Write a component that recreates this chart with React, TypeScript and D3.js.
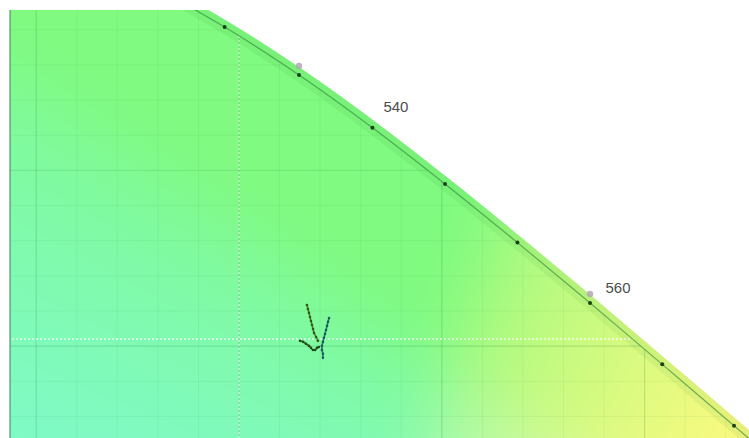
import React, { useMemo } from 'react';
import * as d3 from 'd3';

const W = 749;
const H = 438;

// CIE 1931 2° spectral locus (chromaticity x, y) in 5 nm steps
const wavelengths = [500, 505, 510, 515, 520, 525, 530, 535, 540, 545, 550, 555, 560, 565, 570, 575, 580, 585];
const locusX = [0.0082, 0.0039, 0.0139, 0.0389, 0.0743, 0.1142, 0.1547, 0.1929, 0.2296, 0.2658, 0.3016, 0.3373, 0.3731, 0.4087, 0.4441, 0.4788, 0.5125, 0.5448];
const locusY = [0.5384, 0.6548, 0.7502, 0.812, 0.8338, 0.8262, 0.8059, 0.7816, 0.7543, 0.7243, 0.6923, 0.6589, 0.6245, 0.5896, 0.5547, 0.5202, 0.4866, 0.4544];

// Labelled wavelengths and where their captions sit (chromaticity units)
const labelWavelengths = [540, 560];
const labelX = [0.2774, 0.3869];
const labelY = [0.7361, 0.6336];

// Reference cross lines
const refLineX = 0.2;
const refLineY = 0.604;

// Grid ticks
const minorTicks = d3.range(0, 0.62, 0.02).map((v) => +v.toFixed(2)).concat([0.62, 0.64, 0.66, 0.68, 0.72, 0.74, 0.76, 0.78]);
const majorTicks = [0.1, 0.2, 0.3, 0.4, 0.5, 0.6, 0.7, 0.8];

// Measured chromaticity traces
const traceAX = [0.2335, 0.234, 0.2345, 0.235, 0.2355, 0.236, 0.2365, 0.237, 0.238, 0.2389];
const traceAY = [0.6234, 0.6211, 0.6189, 0.6166, 0.6143, 0.612, 0.6097, 0.6075, 0.6052, 0.603];
const traceBX = [0.2444, 0.2439, 0.2434, 0.2429, 0.2424, 0.2419, 0.2414, 0.2409, 0.2409, 0.2414, 0.2414];
const traceBY = [0.616, 0.6138, 0.6115, 0.6092, 0.6069, 0.6047, 0.6024, 0.6001, 0.5978, 0.5956, 0.5933];
const traceCX = [0.2301, 0.2316, 0.233, 0.2345, 0.2355, 0.2365, 0.2375, 0.2385, 0.2394];
const traceCY = [0.603, 0.6024, 0.6013, 0.6001, 0.599, 0.5978, 0.5978, 0.599, 0.5995];

const xScale = d3.scaleLinear().domain([0.1, 0.4]).range([36.2, 644.6]);
const yScale = d3.scaleLinear().domain([0.6, 0.7]).range([346.1, 170.4]);

function gammaEncode(c: number) {
  return c <= 0.0031308 ? 12.92 * c : 1.055 * Math.pow(c, 1 / 2.4) - 0.055;
}

// xy chromaticity -> display colour, lightened over white
function chromaColor(x: number, y: number): [number, number, number] {
  const X = x / y;
  const Y = 1;
  const Z = (1 - x - y) / y;
  let r = 3.2406 * X - 1.5372 * Y - 0.4986 * Z;
  let g = -0.9689 * X + 1.8758 * Y + 0.0415 * Z;
  let b = 0.0557 * X - 0.204 * Y + 1.057 * Z;
  r = Math.max(0, r);
  g = Math.max(0, g);
  b = Math.max(0, b);
  const m = Math.max(r, g, b) || 1;
  const a = 0.5;
  const enc = (c: number) => 255 * (1 - a) + a * 245 * gammaEncode(c / m);
  return [enc(r), enc(g), enc(b)];
}

// Paint the chromaticity field, then soften it so neighbouring hues blend
function buildField(): string {
  const pad = 80;
  const src = document.createElement('canvas');
  src.width = W + pad * 2;
  src.height = H + pad * 2;
  const sctx = src.getContext('2d');
  if (!sctx) return '';
  const img = sctx.createImageData(src.width, src.height);
  for (let py = 0; py < src.height; py++) {
    const cy = yScale.invert(py - pad + 0.5);
    for (let px = 0; px < src.width; px++) {
      const cx = xScale.invert(px - pad + 0.5);
      const [r, g, b] = chromaColor(cx, cy);
      const i = (py * src.width + px) * 4;
      img.data[i] = r;
      img.data[i + 1] = g;
      img.data[i + 2] = b;
      img.data[i + 3] = 255;
    }
  }
  sctx.putImageData(img, 0, 0);

  const out = document.createElement('canvas');
  out.width = W;
  out.height = H;
  const ctx = out.getContext('2d');
  if (!ctx) return '';
  ctx.filter = 'blur(28px)';
  ctx.drawImage(src, -pad, -pad);
  return out.toDataURL();
}

export default function App() {
  const field = useMemo(() => buildField(), []);

  const locusPts: [number, number][] = wavelengths.map((_, i) => [xScale(locusX[i]), yScale(locusY[i])]);
  const line = d3.line<[number, number]>().curve(d3.curveCatmullRom.alpha(0.5));
  const locusPath = line(locusPts) || '';
  // close the region far outside the visible window
  const regionPath =
    locusPath +
    `L${xScale(0.6)},${yScale(0.3)}L${xScale(-0.2)},${yScale(0.3)}L${xScale(-0.2)},${yScale(0.5384)}Z`;

  const visibleDots = wavelengths
    .map((w, i) => ({ w, x: xScale(locusX[i]), y: yScale(locusY[i]) }))
    .filter((d) => d.x > 0 && d.x < W && d.y > 0 && d.y < H);

  const traceLine = d3.line<[number, number]>().curve(d3.curveMonotoneY);
  const toPts = (xs: number[], ys: number[]) => xs.map((x, i) => [xScale(x), yScale(ys[i])] as [number, number]);
  const traces = [
    { pts: toPts(traceAX, traceAY), stroke: '#4f7a22', dot: '#2f5a18' },
    { pts: toPts(traceBX, traceBY), stroke: '#24786e', dot: '#1d5c5e' },
    { pts: toPts(traceCX, traceCY), stroke: '#2f6226', dot: '#234a1a' },
  ];

  const left = 10;
  const top = 10;

  return (
    <svg width={W} height={H} style={{ position: 'absolute', left: 0, top: 0, background: '#fff' }}>
      <defs>
        <clipPath id="plotArea">
          <rect x={left} y={top} width={W - left + 20} height={H - top + 20} />
        </clipPath>
        <clipPath id="locusRegion">
          <path d={regionPath} />
        </clipPath>
        <mask id="locusMask">
          <path d={regionPath} fill="#fff" />
          <path d={locusPath} fill="none" stroke="#fff" strokeWidth={13} strokeLinejoin="round" />
        </mask>
      </defs>

      <g clipPath="url(#plotArea)">
        <g mask="url(#locusMask)">
          <image href={field} x={0} y={0} width={W} height={H} preserveAspectRatio="none" />
          <path d={locusPath} fill="none" stroke="rgba(40,140,40,0.08)" strokeWidth={13} />
        </g>

        <g clipPath="url(#locusRegion)">
          {minorTicks.map((t) => (
            <line key={'vx' + t} x1={xScale(t)} x2={xScale(t)} y1={0} y2={H} stroke="rgba(0,90,60,0.055)" strokeWidth={1} />
          ))}
          {minorTicks.map((t) => (
            <line key={'hy' + t} x1={0} x2={W} y1={yScale(t)} y2={yScale(t)} stroke="rgba(0,90,60,0.055)" strokeWidth={1} />
          ))}
          {majorTicks.map((t) => (
            <line key={'Vx' + t} x1={xScale(t)} x2={xScale(t)} y1={0} y2={H} stroke="rgba(0,90,60,0.1)" strokeWidth={1.3} />
          ))}
          {majorTicks.map((t) => (
            <line key={'Hy' + t} x1={0} x2={W} y1={yScale(t)} y2={yScale(t)} stroke="rgba(0,90,60,0.1)" strokeWidth={1.3} />
          ))}
          <line x1={xScale(refLineX)} x2={xScale(refLineX)} y1={0} y2={H} stroke="rgba(255,255,255,0.6)" strokeWidth={1.5} strokeDasharray="2,2" />
          <line x1={0} x2={W} y1={yScale(refLineY)} y2={yScale(refLineY)} stroke="rgba(255,255,255,0.6)" strokeWidth={2} strokeDasharray="2,2" />
        </g>

        <path d={locusPath} fill="none" stroke="rgba(40,130,50,0.6)" strokeWidth={1.2} />

        {visibleDots.map((d) => (
          <circle key={d.w} cx={d.x} cy={d.y} r={2} fill="#17401d" />
        ))}

        {labelWavelengths.map((w) => {
          const i = wavelengths.indexOf(w);
          return (
            <circle key={'m' + w} cx={xScale(locusX[i])} cy={yScale(locusY[i]) - 9} r={3.2} fill="#b4a6b6" opacity={0.85} />
          );
        })}

        {traces.map((t, k) => (
          <g key={k}>
            <path d={traceLine(t.pts) || ''} fill="none" stroke={t.stroke} strokeWidth={1.6} />
            {t.pts.map((p, j) => (
              <circle key={j} cx={p[0]} cy={p[1]} r={1.3} fill={t.dot} />
            ))}
          </g>
        ))}
      </g>

      <line x1={left} x2={left} y1={top} y2={H} stroke="rgba(30,110,60,0.7)" strokeWidth={1.2} />

      {labelWavelengths.map((w, i) => (
        <text
          key={'l' + w}
          x={xScale(labelX[i])}
          y={yScale(labelY[i])}
          textAnchor="middle"
          dominantBaseline="central"
          fontFamily="'Liberation Sans', Arial, sans-serif"
          fontSize={15}
          fill="#4d4d4d"
        >
          {w}
        </text>
      ))}
    </svg>
  );
}
